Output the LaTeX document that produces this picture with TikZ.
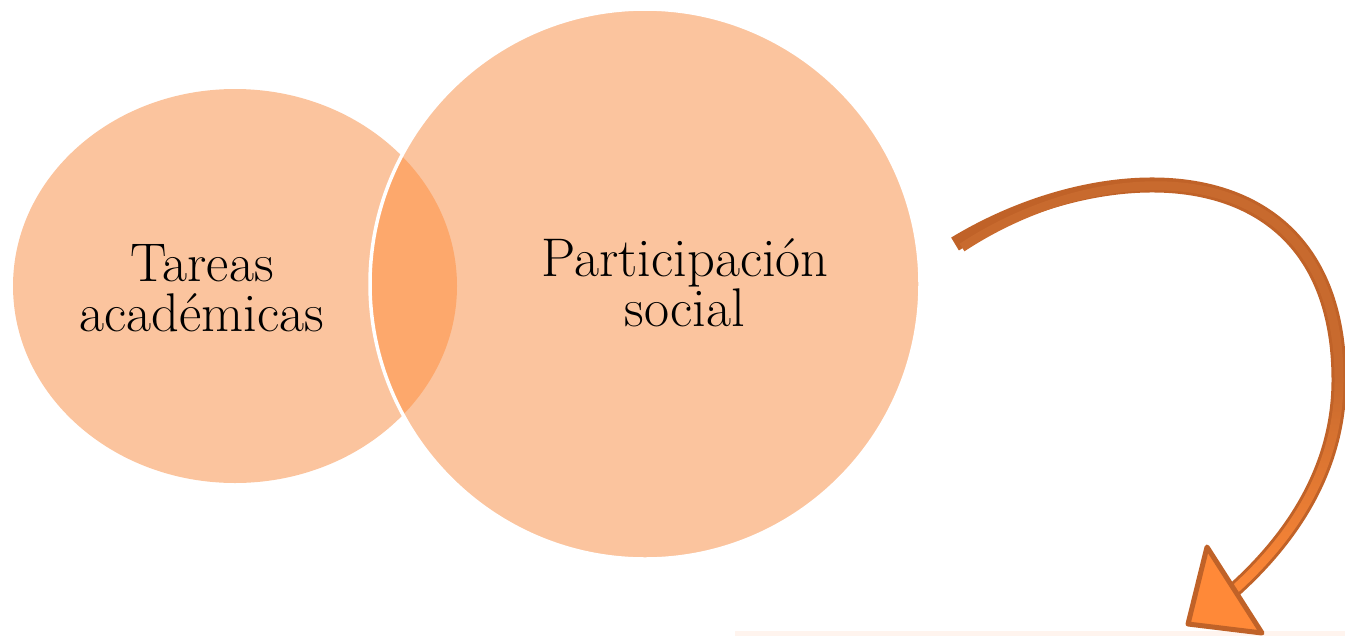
\documentclass[tikz,border=0pt]{standalone}
\usepackage{tikz}
\usetikzlibrary{fadings}

\definecolor{peach}{RGB}{251,196,158}
\definecolor{peachdark}{RGB}{253,168,108}
\definecolor{arrowline}{RGB}{192,98,40}
\definecolor{arrowbody}{RGB}{200,106,46}
\definecolor{arrowtip}{RGB}{255,137,56}
\definecolor{boxshade}{RGB}{255,244,238}

\tikzfading[name=fadedown, top color=transparent!100, bottom color=transparent!0]

\tikzset{
    label text/.style={align=center, font=\fontsize{31}{28.5}\selectfont},
    shaft out/.style={draw=arrowline, line width=0.3cm},
    shaft in/.style={draw=arrowbody, line width=0.18cm}
}

\begin{document}
\begin{tikzpicture}[x=0.02cm,y=-0.02cm]
    \useasboundingbox (0,0) rectangle (1345,636);
    \pgfmathsetmacro{\r}{275}
    % circles
    \fill[peach] (235,286) ellipse [x radius=222, y radius=197];
    \fill[peach] (645,284) circle [radius=\r];
    \begin{scope}
        \clip (235,286) ellipse [x radius=222, y radius=197];
        \fill[peachdark] (645,284) circle [radius=\r];
    \end{scope}
    \draw[white, line width=0.07cm] (645,284) circle [radius=\r];
    \node[label text] (tareas) at (202,288) {Tareas\\acad\'emicas};
    \node[label text] (partic) at (685,283) {Participaci\'on\\social};
    % box below
    \fill[boxshade] (735,631) rectangle (1345,636);
    % curved arrow
    \coordinate (tail) at (955,244);
    \coordinate (mid) at (1339,380);
    \coordinate (base) at (1233,591);
    \draw[shaft out, line cap=butt] (tail) .. controls (1110,150) and (1339,150) .. (mid)
        .. controls (1339,470) and (1290,540) .. (base);
    \draw[shaft in] ([xshift=4,yshift=-2]tail) .. controls (1110,150) and (1339,150) .. (mid)
        .. controls (1339,470) and (1290,540) .. (base);
    \draw[arrowtip, line width=0.18cm, path fading=fadedown] (mid)
        .. controls (1339,470) and (1290,540) .. (base);
    \filldraw[fill=arrowtip, draw=arrowline, line width=0.1cm, line join=round]
        (1207,547) -- (1188,624) -- (1262,633) -- cycle;
\end{tikzpicture}
\end{document}
